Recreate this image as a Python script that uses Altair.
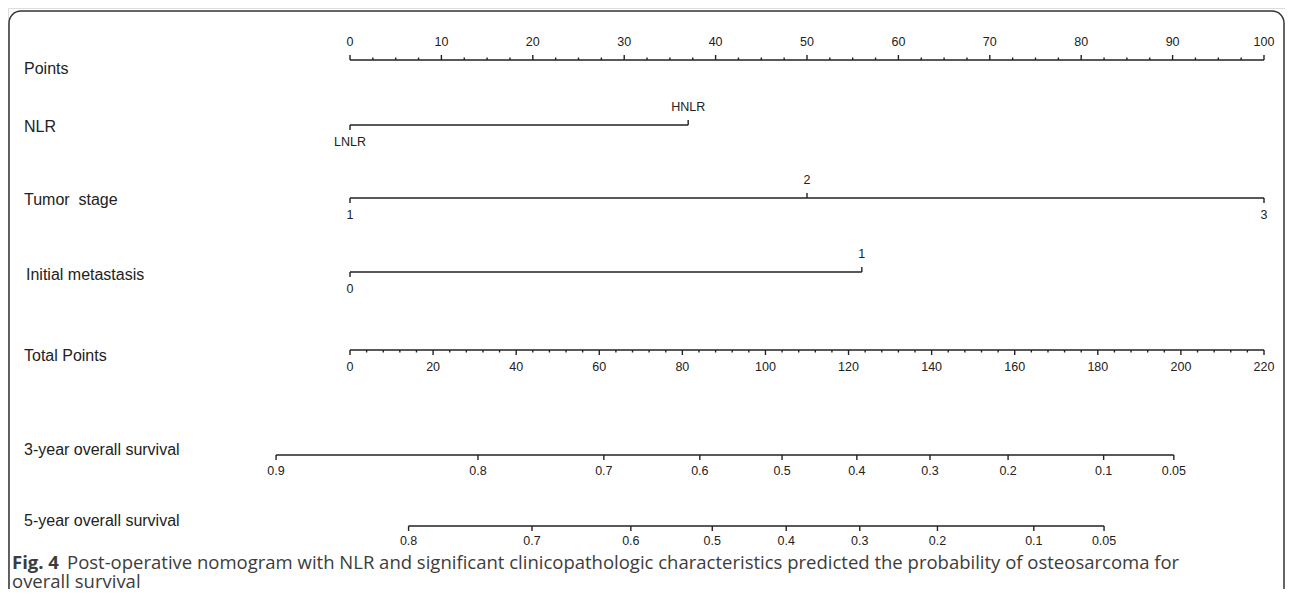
import altair as alt
import pandas as pd

# ---------------- data ----------------
row_names = ["Points", "NLR", "Tumor\u00a0 stage", "Initial metastasis", "Total Points",
             "3-year overall survival", "5-year overall survival"]

points_major = [0, 10, 20, 30, 40, 50, 60, 70, 80, 90, 100]

nlr_levels = ["LNLR", "HNLR"]
nlr_points = [0, 37]
nlr_side = ["down", "up"]

stage_levels = ["1", "2", "3"]
stage_points = [0, 50, 100]
stage_side = ["down", "up", "down"]

meta_levels = ["0", "1"]
meta_points = [0, 56]
meta_side = ["down", "up"]

total_major = [0, 20, 40, 60, 80, 100, 120, 140, 160, 180, 200, 220]
TOTAL_MAX = 220

os3_labels = ["0.9", "0.8", "0.7", "0.6", "0.5", "0.4", "0.3", "0.2", "0.1", "0.05"]
os3_total = [-17.8, 30.8, 61.1, 84.2, 104.0, 122.0, 139.6, 158.4, 181.4, 198.3]

os5_labels = ["0.8", "0.7", "0.6", "0.5", "0.4", "0.3", "0.2", "0.1", "0.05"]
os5_total = [14.1, 43.8, 67.6, 87.2, 105.0, 122.7, 141.4, 164.6, 181.5]

caption_bold = "Fig. 4"
caption_line1 = ("Post-operative nomogram with NLR and significant clinicopathologic "
                 "characteristics predicted the probability of osteosarcoma for")
caption_line2 = "overall survival"

# ---------------- layout ----------------
W, H = 1277, 581
PX_PER_POINT = 9.14
D0 = -342 / PX_PER_POINT
XS = alt.Scale(domain=[D0, D0 + W / PX_PER_POINT], nice=False, zero=False)
INK = "#222222"
LINE_W = 1.4
TICK_FONT = "Liberation Sans"
TICK_SIZE = 12.5
ROW_FONT = "Liberation Sans"
ROW_SIZE = 16

row_line_y = [52, 117, 190, 264, 342, 447, 518]
row_label_y = [61, 119, 192, 267, 348, 442, 513]
row_label_x = [16, 16, 16, 18, 16, 16, 16]
row_lab_down = [11, 11, 11, 11, 11, 10, 9]

MAJ = 5
MIN = 2.5
LAB_UP = 11


def X():
    return alt.X("x:Q", scale=XS, axis=None)


def row_layers(df, y, lab_down, minor=None):
    layers = []
    line = pd.DataFrame({"x": [df["x"].min()], "x2": [df["x"].max()]})
    layers.append(alt.Chart(line).mark_rule(color=INK, strokeWidth=LINE_W).encode(
        x=X(), x2="x2:Q", y=alt.value(y)))
    for side, sgn in (("up", -1), ("down", 1)):
        sub = df[df["side"] == side]
        if len(sub) == 0:
            continue
        layers.append(alt.Chart(sub).mark_rule(color=INK, strokeWidth=LINE_W).encode(
            x=X(), y=alt.value(y), y2=alt.value(y + sgn * MAJ)))
        layers.append(alt.Chart(sub).mark_text(
            font=TICK_FONT, fontSize=TICK_SIZE, color=INK, align="center",
            baseline="bottom" if side == "up" else "top").encode(
            x=X(), text="text:N",
            y=alt.value(y - LAB_UP if side == "up" else y + lab_down)))
    if minor is not None:
        mdf = pd.DataFrame({"x": minor["x"]})
        sgn = -1 if minor["side"] == "up" else 1
        layers.append(alt.Chart(mdf).mark_rule(color=INK, strokeWidth=LINE_W).encode(
            x=X(), y=alt.value(y), y2=alt.value(y + sgn * MIN)))
    return layers


layers = []

# frame
frame = pd.DataFrame({"k": [0]})
layers.append(alt.Chart(frame).mark_rect(
    fill=None, fillOpacity=0, stroke="#333333", strokeWidth=1.5, cornerRadius=12).encode(
    x=alt.value(1), x2=alt.value(W - 1), y=alt.value(3), y2=alt.value(H + 11)))

# Points
pts = pd.DataFrame({"x": points_major, "text": [str(v) for v in points_major], "side": "up"})
pts_minor = [m + k * 2.5 for m in points_major[:-1] for k in (1, 2, 3)]
layers += row_layers(pts, row_line_y[0], row_lab_down[0], {"x": pts_minor, "side": "up"})

# NLR
layers += row_layers(pd.DataFrame({"x": nlr_points, "text": nlr_levels, "side": nlr_side}),
                     row_line_y[1], row_lab_down[1])
# Tumor stage
layers += row_layers(pd.DataFrame({"x": stage_points, "text": stage_levels, "side": stage_side}),
                     row_line_y[2], row_lab_down[2])
# Initial metastasis
layers += row_layers(pd.DataFrame({"x": meta_points, "text": meta_levels, "side": meta_side}),
                     row_line_y[3], row_lab_down[3])

# Total points
tp = pd.DataFrame({"x": [v * 100 / TOTAL_MAX for v in total_major],
                   "text": [str(v) for v in total_major], "side": "down"})
tp_minor = [(m + k * 4) * 100 / TOTAL_MAX for m in total_major[:-1] for k in (1, 2, 3, 4)]
layers += row_layers(tp, row_line_y[4], row_lab_down[4], {"x": tp_minor, "side": "down"})

# survival rows
s3 = pd.DataFrame({"x": [v * 100 / TOTAL_MAX for v in os3_total], "text": os3_labels, "side": "down"})
layers += row_layers(s3, row_line_y[5], row_lab_down[5])
s5 = pd.DataFrame({"x": [v * 100 / TOTAL_MAX for v in os5_total], "text": os5_labels, "side": "down"})
layers += row_layers(s5, row_line_y[6], row_lab_down[6])

# row labels
for name, yy, xx in zip(row_names, row_label_y, row_label_x):
    layers.append(alt.Chart(pd.DataFrame({"t": [name]})).mark_text(
        font=ROW_FONT, fontSize=ROW_SIZE, color=INK, align="left", baseline="middle").encode(
        x=alt.value(xx), y=alt.value(yy), text="t:N"))

# caption
CAP_FONT = "Open Sans"
CAP_SIZE = 18.5
CAP_COLOR = "#3c3c3c"
layers.append(alt.Chart(pd.DataFrame({"t": [caption_bold]})).mark_text(
    font=CAP_FONT, fontSize=CAP_SIZE, fontWeight="bold", color=CAP_COLOR,
    align="left", baseline="alphabetic").encode(x=alt.value(4), y=alt.value(561), text="t:N"))
layers.append(alt.Chart(pd.DataFrame({"t": [caption_line1]})).mark_text(
    font=CAP_FONT, fontSize=CAP_SIZE, color=CAP_COLOR,
    align="left", baseline="alphabetic").encode(x=alt.value(59), y=alt.value(561), text="t:N"))
layers.append(alt.Chart(pd.DataFrame({"t": [caption_line2]})).mark_text(
    font=CAP_FONT, fontSize=CAP_SIZE, color=CAP_COLOR,
    align="left", baseline="alphabetic").encode(x=alt.value(4), y=alt.value(580), text="t:N"))

chart = alt.layer(*layers).properties(
    width=W, height=H,
    autosize=alt.AutoSizeParams(type="none"),
    padding=0,
).configure_view(stroke=None).configure(background="white")

chart.save("out.html", embed_options={"renderer": "svg", "actions": False})
